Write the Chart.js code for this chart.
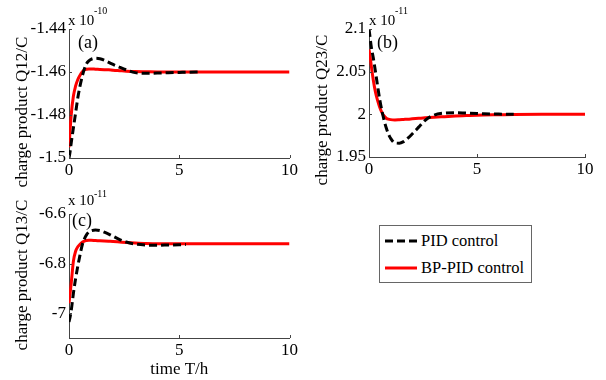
<!DOCTYPE html>
<html>
<head>
<meta charset="utf-8">
<script src="https://cdn.jsdelivr.net/npm/chart.js@4/dist/chart.umd.min.js"></script>
<style>
  body { margin: 0; background: #fff; width: 606px; height: 380px; position: relative; overflow: hidden; }
  canvas { position: absolute; }
  #legend {
    position: absolute; left: 379px; top: 225px; width: 151px; height: 56px;
    border: 1px solid #666; background: #fff;
    font-family: 'Liberation Serif', serif; font-size: 16.5px; color: #000;
  }
  #legend .row { position: absolute; left: 5px; height: 20px; display: flex; align-items: center; }
  #legend svg { margin-right: 4px; }
</style>
</head>
<body>
<canvas id="chart-a" width="300" height="190" style="left:0;top:0"></canvas>
<canvas id="chart-b" width="306" height="190" style="left:300px;top:0"></canvas>
<canvas id="chart-c" width="300" height="190" style="left:0;top:190px"></canvas>
<div id="legend">
  <div class="row" style="top:5px">
    <svg width="32" height="4"><line x1="0" y1="2" x2="32" y2="2" stroke="#000" stroke-width="3" stroke-dasharray="8 4"/></svg>
    <span id="leg-pid"></span>
  </div>
  <div class="row" style="top:32px">
    <svg width="32" height="4"><line x1="0" y1="2" x2="32" y2="2" stroke="rgb(255,0,0)" stroke-width="3"/></svg>
    <span id="leg-bp"></span>
  </div>
</div>
<script>
/* ==================== DATA ==================== */

const seriesNames = ['PID control', 'BP-PID control'];

const timeH = [0, 0.05, 0.1, 0.2, 0.3, 0.4, 0.5, 0.6, 0.7, 0.8, 0.9, 1.0, 1.2, 1.4, 1.6, 1.8, 2.0, 2.3, 2.6, 3.0, 3.5, 4.0, 4.5, 5.0, 5.3, 6.0, 6.7, 8.0, 10.0];

// Q12 (x 1e-10)
const pidQ12 = [-1.5, -1.497, -1.493, -1.486, -1.479, -1.472, -1.4665, -1.462, -1.4585, -1.456, -1.4548, -1.4541, -1.4536, -1.4538, -1.4545, -1.4555, -1.4565, -1.4578, -1.459, -1.4603, -1.4606, -1.4605, -1.4603, -1.4602, -1.4601, -1.46, null, null, null];
const bpQ12 = [-1.495, -1.487, -1.48, -1.4712, -1.4665, -1.4635, -1.4615, -1.46, -1.459, -1.4587, -1.4586, -1.4586, -1.4587, -1.4588, -1.4589, -1.459, -1.4592, -1.4594, -1.4596, -1.4598, -1.4599, -1.46, -1.46, -1.46, -1.46, -1.46, -1.46, -1.46, -1.46];

// Q23 (x 1e-11)
const pidQ23 = [2.1, 2.09, 2.08, 2.066, 2.05, 2.033, 2.017, 2.004, 1.993, 1.984, 1.977, 1.972, 1.9665, 1.9662, 1.968, 1.972, 1.977, 1.985, 1.993, 1.999, 2.0015, 2.002, 2.0015, 2.001, 2.0007, 2.0003, 2.0, null, null];
const bpQ23 = [2.076, 2.068, 2.058, 2.04, 2.026, 2.016, 2.008, 2.002, 1.998, 1.9955, 1.9943, 1.9938, 1.9935, 1.9937, 1.994, 1.9943, 1.9947, 1.9953, 1.9959, 1.9966, 1.9973, 1.998, 1.9985, 1.999, 1.9992, 1.9995, 1.9998, 2.0, 2.0];

// Q13 (x 1e-11)
const pidQ13 = [-7.035, -7.015, -6.99, -6.92, -6.86, -6.81, -6.765, -6.725, -6.7, -6.683, -6.673, -6.668, -6.665, -6.667, -6.673, -6.681, -6.69, -6.703, -6.713, -6.721, -6.725, -6.726, -6.725, -6.724, -6.723, null, null, null, null];
const bpQ13 = [-6.96, -6.92, -6.88, -6.79, -6.75, -6.732, -6.722, -6.714, -6.709, -6.707, -6.706, -6.706, -6.707, -6.708, -6.709, -6.71, -6.711, -6.713, -6.715, -6.717, -6.719, -6.72, -6.72, -6.72, -6.72, -6.72, -6.72, -6.72, -6.72];

const xTicks = [0, 5, 10];
const yTicksQ12 = [-1.5, -1.48, -1.46, -1.44];
const yTicksQ23 = [1.95, 2, 2.05, 2.1];
const yTicksQ13 = [-7, -6.8, -6.6];

/* ==================== PLUGINS ==================== */

const FONT = "'Liberation Serif', serif";
const AXIS = '#444';

// MATLAB style ticks pointing into the plot
let inTicks = {
  id: 'inTicks',
  afterDraw(chart) {
    let { ctx, chartArea, scales } = chart;
    ctx.save();
    ctx.strokeStyle = AXIS;
    ctx.lineWidth = 1;
    ctx.beginPath();
    scales.x.ticks.forEach(t => {
      let px = Math.round(scales.x.getPixelForValue(t.value)) + 0.5;
      ctx.moveTo(px, chartArea.bottom);
      ctx.lineTo(px, chartArea.bottom - 3);
    });
    scales.y.ticks.forEach(t => {
      let py = Math.round(scales.y.getPixelForValue(t.value)) + 0.5;
      ctx.moveTo(chartArea.left, py);
      ctx.lineTo(chartArea.left + 3, py);
    });
    ctx.stroke();
    ctx.restore();
  }
};

// free text: axis label, exponent, panel tag
let notes = {
  id: 'notes',
  afterDraw(chart, args, opts) {
    let { ctx } = chart;
    (opts.items || []).forEach(n => {
      ctx.save();
      ctx.font = `${n.size}px ${FONT}`;
      ctx.fillStyle = '#000';
      ctx.textBaseline = 'alphabetic';
      ctx.textAlign = n.align || 'left';
      ctx.translate(n.x, n.y);
      if (n.rotate) ctx.rotate(-Math.PI / 2);
      ctx.fillText(n.text, 0, 0);
      ctx.restore();
    });
  }
};

/* ==================== CHARTS ==================== */

let toPoints = arr => timeH.map((t, i) => ({ x: t, y: arr[i] }));

let makePanel = (id, { pid, bp, yMin, yMax, yTicks, area, items, xTitle }) => {
  let canvas = document.getElementById(id);
  let W = canvas.width, H = canvas.height;

  return new Chart(canvas, {
    type: 'line',
    data: {
      datasets: [{
        label: seriesNames[0],
        data: toPoints(pid),
        borderColor: '#000',
        borderWidth: 3,
        borderDash: [8, 4],
        pointRadius: 0,
        cubicInterpolationMode: 'monotone',
        fill: false
      }, {
        label: seriesNames[1],
        data: toPoints(bp),
        borderColor: 'rgb(255, 0, 0)',
        borderWidth: 3,
        pointRadius: 0,
        cubicInterpolationMode: 'monotone',
        fill: false
      }]
    },
    options: {
      responsive: false,
      animation: false,
      devicePixelRatio: 1,
      layout: { padding: { left: 0, top: area.top, right: W - area.right, bottom: 0 } },
      plugins: {
        legend: { display: false },
        tooltip: { enabled: false },
        notes: { items }
      },
      scales: {
        x: {
          type: 'linear',
          min: 0,
          max: 10,
          afterBuildTicks: s => { s.ticks = xTicks.map(v => ({ value: v })); },
          afterFit: s => { s.height = H - area.bottom; },
          grid: { display: false, drawTicks: false },
          border: { display: true, color: AXIS, width: 1 },
          ticks: { font: { family: FONT, size: 17 }, color: '#000', padding: 2, maxRotation: 0, autoSkip: false },
          title: xTitle
            ? { display: true, text: xTitle, font: { family: FONT, size: 17 }, color: '#000', padding: { top: 0, bottom: 0 } }
            : { display: false }
        },
        y: {
          type: 'linear',
          min: yMin,
          max: yMax,
          afterBuildTicks: s => { s.ticks = yTicks.map(v => ({ value: v })); },
          afterFit: s => { s.width = area.left; },
          grid: { display: false, drawTicks: false },
          border: { display: true, color: AXIS, width: 1 },
          ticks: { font: { family: FONT, size: 17 }, color: '#000', padding: 3, callback: v => String(+v.toFixed(3)) }
        }
      }
    },
    plugins: [inTicks, notes]
  });
};

makePanel('chart-a', {
  pid: pidQ12, bp: bpQ12, yMin: -1.5, yMax: -1.44, yTicks: yTicksQ12,
  area: { left: 69, top: 29, right: 290, bottom: 158 },
  items: [
    { text: 'charge product Q12/C', x: 27, y: 112, size: 17, align: 'center', rotate: true },
    { text: 'x 10', x: 68, y: 25, size: 15 },
    { text: '-10', x: 94, y: 14, size: 10 },
    { text: '(a)', x: 78, y: 48, size: 18 }
  ]
});

makePanel('chart-b', {
  pid: pidQ23, bp: bpQ23, yMin: 1.95, yMax: 2.1, yTicks: yTicksQ23,
  area: { left: 69, top: 29, right: 285, bottom: 157 },
  items: [
    { text: 'charge product Q23/C', x: 27, y: 110, size: 17, align: 'center', rotate: true },
    { text: 'x 10', x: 69, y: 25, size: 15 },
    { text: '-11', x: 95, y: 14, size: 10 },
    { text: '(b)', x: 77, y: 48, size: 18 }
  ]
});

makePanel('chart-c', {
  pid: pidQ13, bp: bpQ13, yMin: -7.1, yMax: -6.6, yTicks: yTicksQ13,
  area: { left: 69, top: 24, right: 291, bottom: 148 },
  xTitle: 'time T/h',
  items: [
    { text: 'charge product Q13/C', x: 27, y: 85, size: 17, align: 'center', rotate: true },
    { text: 'x 10', x: 68, y: 15, size: 15 },
    { text: '-11', x: 94, y: 7, size: 10 },
    { text: '(c)', x: 72, y: 36, size: 18 }
  ]
});

document.getElementById('leg-pid').textContent = seriesNames[0];
document.getElementById('leg-bp').textContent = seriesNames[1];
</script>
</body>
</html>
